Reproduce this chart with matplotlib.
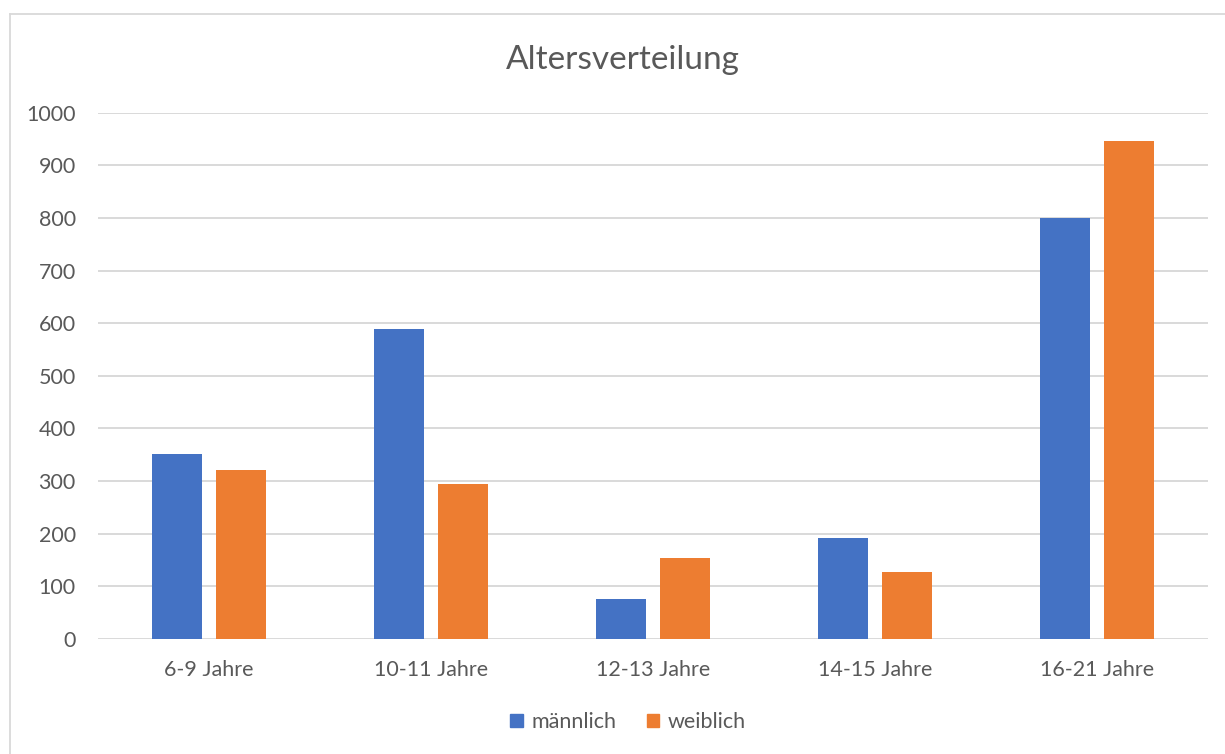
import matplotlib
matplotlib.use('Agg')
import matplotlib.pyplot as plt
import numpy as np
from matplotlib.lines import Line2D
from matplotlib.patches import Patch

# Altersgruppen und Anzahl je Geschlecht
altersgruppen = ['6-9 Jahre', '10-11 Jahre', '12-13 Jahre', '14-15 Jahre', '16-21 Jahre']
maennlich = [351, 589, 76, 191, 800]
weiblich = [320, 295, 153, 126, 946]

blau = '#4472C4'
orange = '#ED7D31'
textfarbe = '#595959'
gitter = '#D9D9D9'

plt.rcParams['font.family'] = ['Lato', 'DejaVu Sans']

fig = plt.figure(figsize=(12.25, 7.54), dpi=100)
ax = fig.add_axes([98 / 1225, 1 - 638.7 / 754, (1208 - 98) / 1225, (638.7 - 112.7) / 754])

x = np.arange(len(altersgruppen))
breite = 0.225
versatz = 0.143
ax.bar(x - versatz, maennlich, breite, color=blau, zorder=3)
ax.bar(x + versatz, weiblich, breite, color=orange, zorder=3)

ax.set_xlim(-0.5, len(altersgruppen) - 0.5)
ax.set_ylim(0, 1000)
ax.set_yticks(range(0, 1001, 100))
ax.set_xticks(x)
ax.set_xticklabels(altersgruppen)
ax.tick_params(axis='both', length=0, labelsize=15.5, colors=textfarbe)
ax.tick_params(axis='x', pad=15)
ax.tick_params(axis='y', pad=16)
ax.grid(axis='y', color=gitter, linewidth=1.4, zorder=0)
for s in ax.spines.values():
    s.set_visible(False)

fig.text(623 / 1225, 1 - 60 / 754, 'Altersverteilung', ha='center', va='center',
         fontsize=24, color=textfarbe)

handles = [Patch(color=blau, label='männlich'), Patch(color=orange, label='weiblich')]
fig.legend(handles=handles, loc='center', bbox_to_anchor=(628 / 1225, 1 - 722 / 754),
           ncol=2, frameon=False, fontsize=15.5, labelcolor=textfarbe,
           handlelength=0.6, handleheight=0.6, handletextpad=0.4, columnspacing=1.4)

# Rahmen um das Diagramm
fig.add_artist(Line2D([10 / 1225, 1], [1 - 14 / 754, 1 - 14 / 754], color=gitter, lw=1.3))
fig.add_artist(Line2D([10 / 1225, 10 / 1225], [0, 1 - 14 / 754], color=gitter, lw=1.3))

fig.savefig('out.png', dpi=100)
